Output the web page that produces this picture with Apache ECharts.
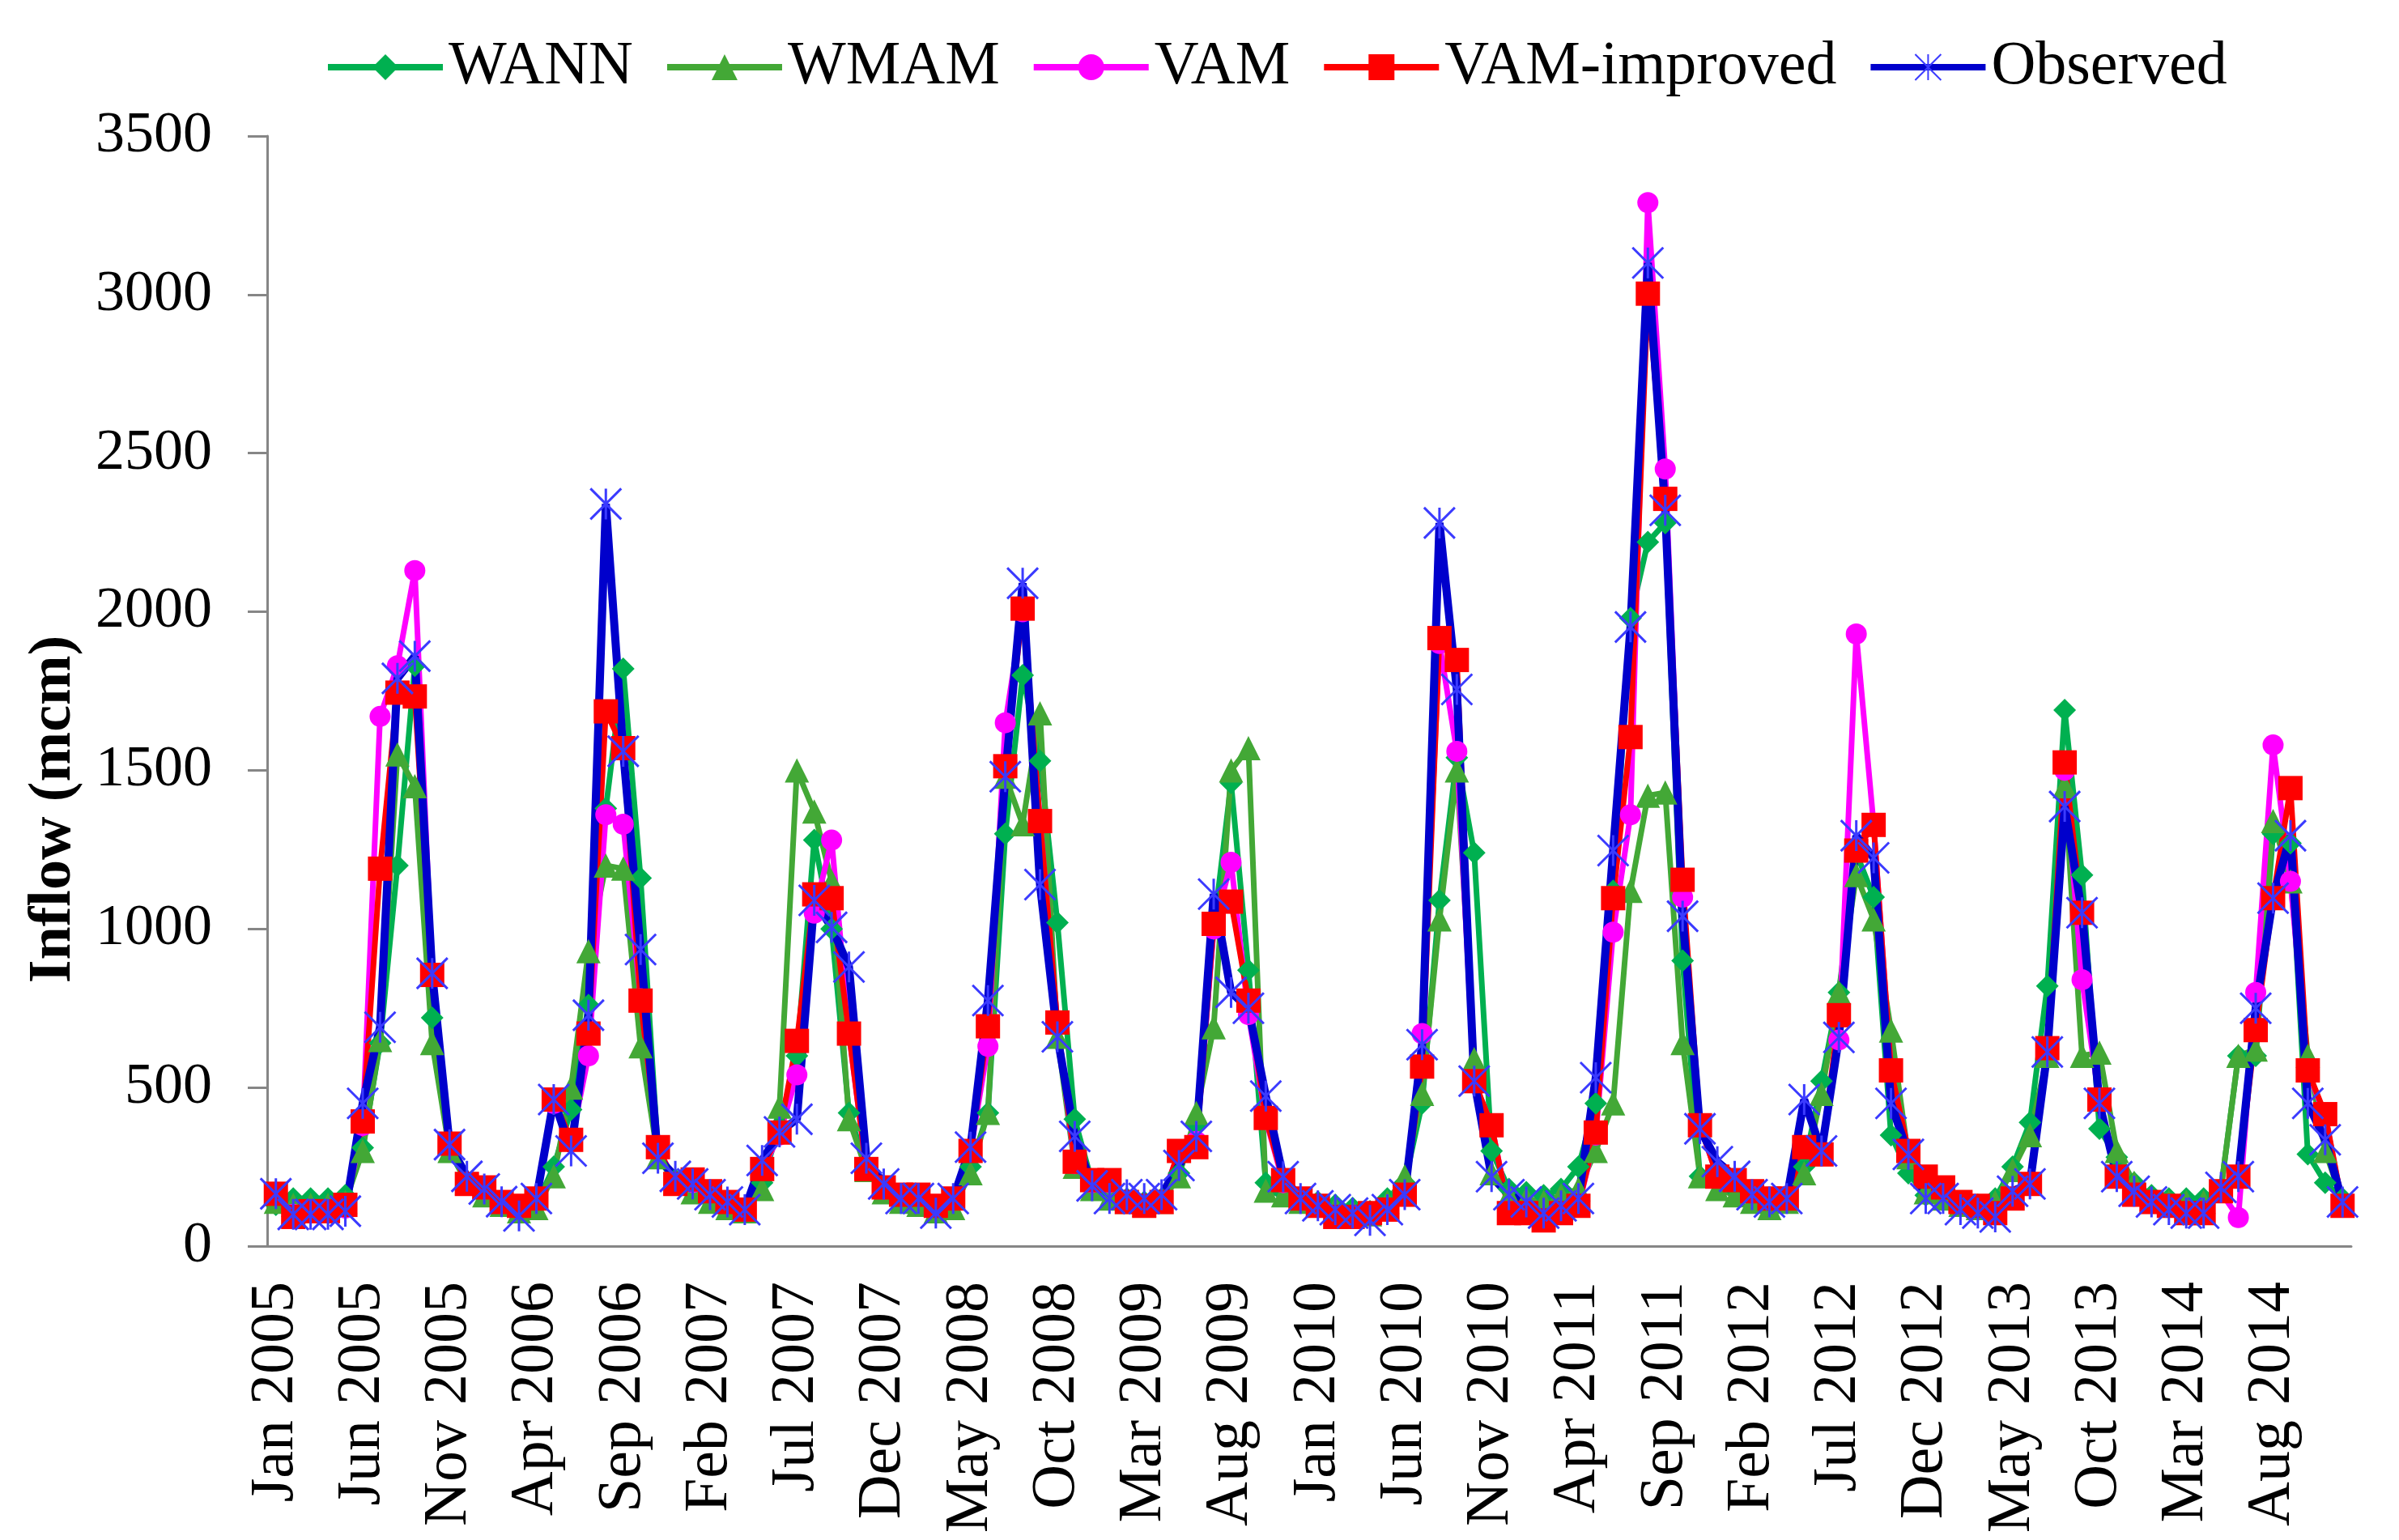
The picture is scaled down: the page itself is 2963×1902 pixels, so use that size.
<!DOCTYPE html>
<html>
<head>
<meta charset="utf-8">
<script src="https://cdn.jsdelivr.net/npm/echarts@6/dist/echarts.min.js"></script>
<style>
  html, body { margin: 0; padding: 0; background: #fff; }
  #main { width: 2963px; height: 1902px; }
</style>
</head>
<body>
<div id="main"></div>
<script>
// monthly categories Jan 2005 .. Dec 2014
var months = ["Jan", "Feb", "Mar", "Apr", "May", "Jun", "Jul", "Aug", "Sep", "Oct", "Nov", "Dec"];
var years = [2005, 2006, 2007, 2008, 2009, 2010, 2011, 2012, 2013, 2014];
var categories = [];
years.forEach(function (y) {
  months.forEach(function (m) { categories.push(m + " " + y); });
});

var yTicks = [0, 500, 1000, 1500, 2000, 2500, 3000, 3500];

// inflow (mcm), one row per year
var wann = [
  130, 150, 150, 150, 160, 310, 640, 1200, 1830, 720, 300, 200,
  170, 140, 120, 130, 250, 430, 760, 1380, 1820, 1160, 300, 210,
  180, 150, 130, 120, 200, 380, 600, 1280, 1000, 420, 250, 170,
  150, 140, 120, 130, 250, 420, 1300, 1800, 1530, 1020, 400, 200,
  160, 150, 140, 150, 230, 380, 1000, 1460, 870, 200, 170, 150,
  140, 130, 120, 110, 150, 200, 450, 1090, 1540, 1240, 300, 180,
  170, 160, 180, 250, 450, 1120, 1980, 2220, 2280, 900, 220, 200,
  180, 150, 130, 150, 250, 520, 800, 1240, 1100, 350, 230, 160,
  150, 140, 130, 150, 250, 390, 820, 1690, 1170, 370, 280, 200,
  160, 150, 150, 150, 180, 600, 600, 1300, 1270, 290, 200, 150
];
var wmam = [
  140, 130, 130, 130, 140, 300, 650, 1550, 1450, 640, 300, 200,
  160, 130, 110, 120, 220, 500, 930, 1200, 1190, 630, 280, 200,
  170, 140, 120, 110, 180, 440, 1500, 1370, 1150, 400, 240, 170,
  140, 130, 110, 120, 230, 420, 1480, 1330, 1680, 660, 250, 180,
  150, 140, 130, 140, 220, 420, 690, 1500, 1570, 175, 160, 140,
  130, 120, 110, 100, 140, 220, 480, 1030, 1500, 590, 230, 160,
  150, 140, 160, 180, 300, 450, 1120, 1420, 1430, 640, 220, 180,
  160, 140, 120, 140, 230, 480, 800, 1170, 1030, 680, 280, 170,
  150, 130, 120, 140, 240, 350, 600, 1450, 600, 610, 300, 200,
  150, 140, 140, 140, 180, 600, 620, 1340, 1150, 600, 300, 140
];
var vam = [
  160, 100, 110, 110, 120, 380, 1670, 1830, 2130, 850, 320, 200,
  180, 140, 130, 150, 450, 330, 600, 1360, 1330, 780, 310, 200,
  200, 170, 140, 115, 240, 350, 540, 1050, 1280, 670, 240, 180,
  160, 160, 130, 150, 300, 630, 1650, 2000, 1340, 700, 260, 200,
  200, 140, 130, 140, 300, 330, 1000, 1210, 730, 400, 200, 150,
  125, 95, 95, 100, 115, 160, 670, 1900, 1560, 520, 380, 110,
  105, 85, 105, 125, 350, 990, 1360, 3290, 2450, 1100, 380, 220,
  210, 170, 150, 150, 310, 290, 650, 1930, 1330, 550, 300, 220,
  185, 140, 125, 105, 150, 200, 620, 1500, 840, 460, 220, 160,
  140, 125, 105, 105, 170, 90, 800, 1580, 1150, 550, 410, 125
];
var vamImproved = [
  165, 92, 110, 110, 130, 393, 1190, 1745, 1733, 855, 323, 196,
  185, 139, 127, 150, 462, 335, 670, 1686, 1570, 774, 312, 196,
  210, 173, 139, 115, 243, 358, 647, 1109, 1097, 670, 243, 185,
  162, 162, 127, 150, 300, 693, 1513, 2010, 1340, 705, 266, 208,
  208, 139, 127, 139, 300, 312, 1016, 1086, 774, 404, 208, 150,
  127, 92, 92, 104, 115, 162, 566, 1917, 1848, 520, 381, 104,
  104, 81, 104, 127, 358, 1097, 1605, 3003, 2356, 1155, 381, 219,
  208, 173, 150, 150, 312, 289, 728, 1247, 1328, 554, 300, 219,
  185, 139, 127, 104, 150, 196, 624, 1525, 1051, 462, 219, 162,
  139, 127, 104, 104, 173, 219, 681, 1097, 1444, 554, 416, 127
];
var observed = [
  165, 100, 100, 100, 110, 450, 690, 1790, 1860, 860, 320, 220,
  180, 140, 95, 150, 462, 300, 728, 2340, 1560, 935, 277, 220,
  196, 162, 139, 115, 270, 360, 400, 1090, 1005, 880, 277, 196,
  150, 150, 104, 150, 312, 774, 1480, 2090, 1140, 660, 346, 190,
  150, 162, 150, 162, 254, 346, 1110, 800, 750, 473, 219, 150,
  127, 115, 104, 81, 115, 162, 635, 2280, 1755, 520, 219, 162,
  139, 104, 127, 150, 531, 1247, 1952, 3100, 2320, 1040, 370, 266,
  220, 162, 139, 150, 462, 300, 658, 1294, 1224, 450, 289, 150,
  150, 115, 104, 92, 173, 196, 612, 1386, 1051, 450, 219, 173,
  139, 115, 104, 104, 185, 219, 750, 1097, 1294, 450, 335, 139
];

var font = "'Liberation Serif', 'DejaVu Serif', serif";
var axisGray = "#868686";
var starPath = "path://M0,0L10,10M10,0L0,10M5,0L5,10";

function lineSeries(name, data, color, symbol, size, width, extra) {
  var s = {
    name: name,
    type: "line",
    data: data,
    symbol: symbol,
    symbolSize: size,
    showAllSymbol: true,
    color: color,
    lineStyle: { color: color, width: width },
    itemStyle: { color: color },
    emphasis: { disabled: true },
    animation: false
  };
  if (extra) Object.assign(s.itemStyle, extra);
  return s;
}

var chartDom = document.getElementById("main");
var myChart = echarts.init(chartDom, null, { renderer: "canvas", devicePixelRatio: 1 });

var option = {
  backgroundColor: "#ffffff",
  textStyle: { fontFamily: font },
  legend: {
    top: 40,
    left: 396,
    itemWidth: 142,
    itemHeight: 40,
    itemGap: 38,
    lineStyle: { width: 8 },
    textStyle: { fontFamily: font, fontSize: 76, color: "#000", padding: [0, 0, 0, 2] },
    data: ["WANN", "WMAM", "VAM", "VAM-improved", "Observed"]
  },
  grid: { left: 330, right: 59, top: 168, bottom: 363 },
  xAxis: {
    type: "category",
    data: categories,
    boundaryGap: true,
    axisLine: { lineStyle: { color: axisGray, width: 3 } },
    axisTick: { interval: 0, length: 24, lineStyle: { color: axisGray, width: 3 } },
    axisLabel: {
      interval: 4,
      rotate: 90,
      margin: 44,
      fontFamily: font,
      fontSize: 76,
      color: "#000"
    },
    splitLine: { show: false }
  },
  yAxis: {
    type: "value",
    min: yTicks[0],
    max: yTicks[yTicks.length - 1],
    interval: 500,
    name: "Inflow (mcm)",
    nameLocation: "middle",
    nameGap: 226,
    nameTextStyle: {
      fontFamily: font, fontSize: 74, fontWeight: "bold", color: "#000",
      padding: [0, 292, 0, 0]
    },
    axisLine: { show: true, lineStyle: { color: axisGray, width: 3 } },
    axisTick: { show: true, length: 24, lineStyle: { color: axisGray, width: 3 } },
    axisLabel: {
      margin: 68, fontFamily: font, fontSize: 72, color: "#000",
      formatter: function (v) { return String(v); }
    },
    splitLine: { show: false }
  },
  series: [
    lineSeries("WANN", wann, "#00B050", "diamond", 28, 7),
    lineSeries("WMAM", wmam, "#43A836", "triangle", 30, 7),
    lineSeries("VAM", vam, "#FF00FF", "circle", 26, 7),
    lineSeries("VAM-improved", vamImproved, "#FF0000", "rect", 30, 7),
    lineSeries("Observed", observed, "#0000CC", starPath, 38, 10,
      { borderColor: "#3B3BFF", borderWidth: 3 })
  ]
};

option && myChart.setOption(option);
</script>
</body>
</html>
